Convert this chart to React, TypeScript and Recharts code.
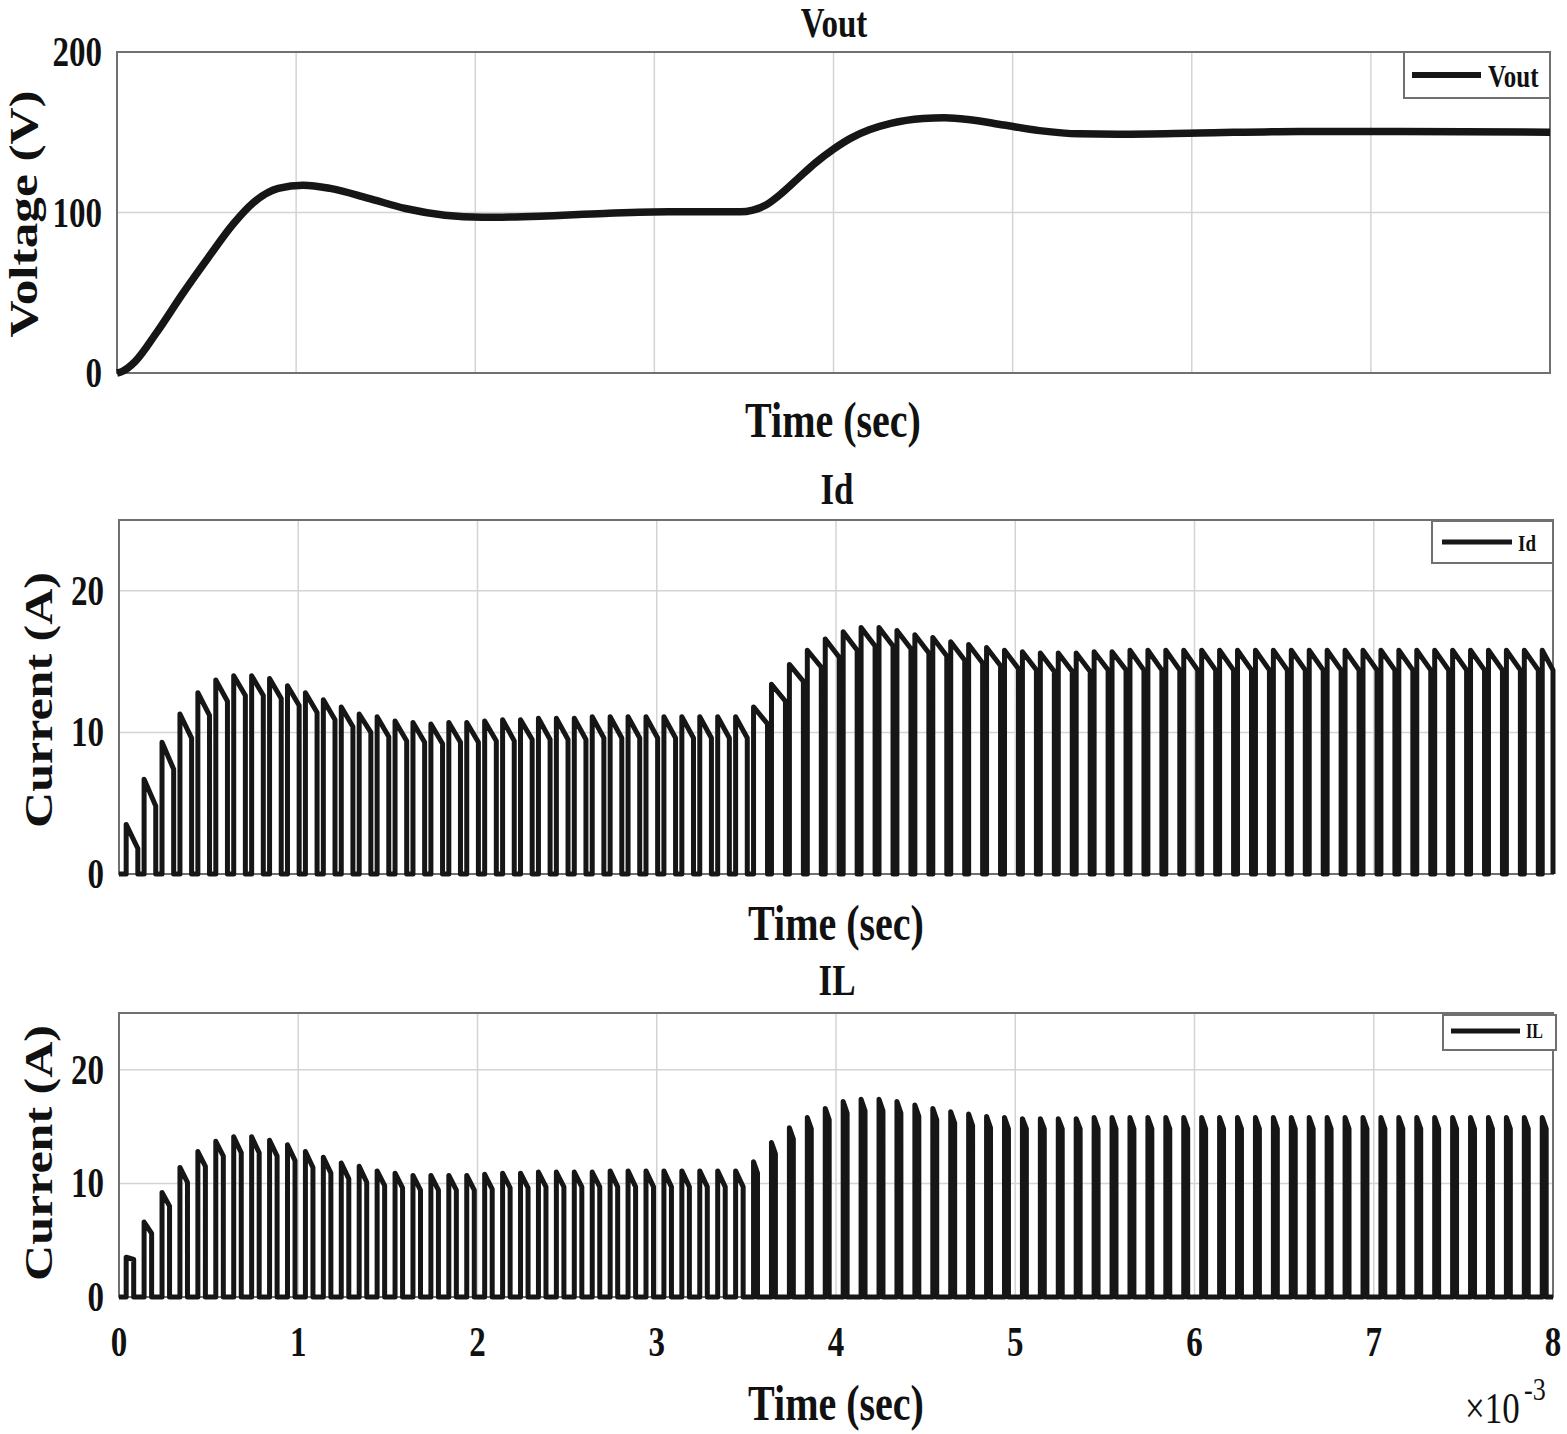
import React from "react";
import {
  CartesianGrid,
  Line,
  LineChart,
  ReferenceArea,
  XAxis,
  YAxis,
} from "recharts";

// Vout (time in ms, volts)
const voutTime = [
  0, 0.03, 0.1, 0.22, 0.37, 0.51, 0.65, 0.76, 0.9, 1.04, 1.19, 1.4, 1.61, 1.83,
  2.04, 2.36, 2.72, 3.08, 3.48, 3.55, 3.62, 3.7, 3.8, 3.9, 4.0, 4.1, 4.2, 4.32,
  4.5, 4.62, 4.75, 4.95, 5.15, 5.37, 5.6, 6.04, 6.6, 7.16, 8,
];
const voutVolts = [
  0, 1, 7, 25, 50, 72, 93, 106, 115, 117, 115, 109, 102.5, 98.3, 97, 97.7, 99.4,
  100.4, 100.4, 101.5, 104.5, 111, 121, 131, 139.5, 146.5, 151.5, 155.5, 158.5,
  159, 158, 154.5, 151, 149, 148.8, 149.5, 150.5, 150.5, 150,
];

// one entry per switching pulse (80 pulses of 0.1 ms)
const idPeaks = [
  3.5, 6.7, 9.3, 11.3, 12.8, 13.7, 14.0, 14.0, 13.8, 13.3, 12.8, 12.3, 11.8,
  11.3, 11.1, 10.8, 10.7, 10.6, 10.7, 10.7, 10.8, 10.9, 10.9, 11.0, 11.0, 11.0,
  11.1, 11.1, 11.1, 11.1, 11.1, 11.1, 11.1, 11.1, 11.1, 11.8, 13.4, 14.8, 15.8,
  16.6, 17.1, 17.4, 17.4, 17.2, 16.9, 16.7, 16.4, 16.2, 16.0, 15.8, 15.7, 15.6,
  15.6, 15.6, 15.7, 15.7, 15.8, 15.8, 15.8, 15.8, 15.8, 15.8, 15.8, 15.8, 15.8,
  15.8, 15.8, 15.8, 15.8, 15.8, 15.8, 15.8, 15.8, 15.8, 15.8, 15.8, 15.8, 15.8,
  15.8, 15.8,
];
const idLows = [
  1.8, 4.8, 7.4, 9.6, 11.2, 12.2, 12.6, 12.6, 12.4, 11.9, 11.4, 10.9, 10.4,
  10.0, 9.7, 9.4, 9.3, 9.2, 9.3, 9.3, 9.4, 9.4, 9.5, 9.5, 9.5, 9.5, 9.6, 9.6,
  9.6, 9.6, 9.6, 9.6, 9.6, 9.6, 9.6, 10.6, 12.2, 13.6, 14.6, 15.3, 15.8, 16.1,
  16.1, 15.9, 15.6, 15.4, 15.1, 14.9, 14.7, 14.5, 14.4, 14.3, 14.3, 14.3, 14.4,
  14.4, 14.4, 14.4, 14.4, 14.4, 14.4, 14.4, 14.4, 14.4, 14.4, 14.4, 14.4, 14.4,
  14.4, 14.4, 14.4, 14.4, 14.4, 14.4, 14.4, 14.4, 14.4, 14.4, 14.4, 14.4,
];
const ilPeaks = [
  3.5, 6.6, 9.2, 11.4, 12.8, 13.7, 14.1, 14.1, 13.8, 13.4, 12.8, 12.3, 11.8,
  11.5, 11.1, 10.9, 10.7, 10.7, 10.7, 10.7, 10.8, 10.9, 10.9, 11.0, 11.0, 11.0,
  11.0, 11.1, 11.1, 11.1, 11.1, 11.1, 11.1, 11.1, 11.1, 11.9, 13.6, 14.9, 15.8,
  16.6, 17.2, 17.4, 17.4, 17.2, 16.9, 16.6, 16.3, 16.1, 15.9, 15.8, 15.7, 15.7,
  15.7, 15.7, 15.8, 15.8, 15.8, 15.8, 15.8, 15.8, 15.8, 15.8, 15.8, 15.8, 15.8,
  15.8, 15.8, 15.8, 15.8, 15.8, 15.8, 15.8, 15.8, 15.8, 15.8, 15.8, 15.8, 15.8,
  15.8, 15.8,
];
const ilLows = [
  3.3, 5.6, 8.0, 10.1, 11.5, 12.4, 12.7, 12.7, 12.4, 12.0, 11.4, 10.9, 10.4,
  10.1, 9.8, 9.6, 9.4, 9.4, 9.4, 9.4, 9.5, 9.6, 9.6, 9.7, 9.7, 9.7, 9.7, 9.7,
  9.7, 9.7, 9.7, 9.7, 9.7, 9.7, 9.7, 10.9, 12.6, 13.9, 14.8, 15.6, 16.2, 16.4,
  16.4, 16.2, 15.9, 15.6, 15.3, 15.1, 14.9, 14.8, 14.8, 14.8, 14.8, 14.8, 14.8,
  14.8, 14.8, 14.8, 14.8, 14.8, 14.8, 14.8, 14.8, 14.8, 14.8, 14.8, 14.8, 14.8,
  14.8, 14.8, 14.8, 14.8, 14.8, 14.8, 14.8, 14.8, 14.8, 14.8, 14.8, 14.8,
];

// conduction time of each pulse (ms), before / after the reference step
const idOnTime = [0.065, 0.078];
const ilOnTime = [0.042, 0.022];
const STEP_PULSE = 35;
const PERIOD = 0.1;
const FIRST_RISE = 0.04;

const xTicks = [0, 1, 2, 3, 4, 5, 6, 7, 8];
const voutTicks = [0, 100, 200];
const currentTicks = [0, 10, 20];

const voutData = voutTime.map((t, i) => ({ t, v: voutVolts[i] }));

function pulseTrain(peaks: number[], lows: number[], onTime: number[]) {
  const pts = [{ t: 0, v: 0 }];
  peaks.forEach((peak, k) => {
    const start = FIRST_RISE + PERIOD * k;
    const end = Math.min(start + onTime[k < STEP_PULSE ? 0 : 1], 8);
    pts.push({ t: start, v: 0 });
    pts.push({ t: start, v: peak });
    pts.push({ t: end, v: lows[k] });
    pts.push({ t: end, v: 0 });
  });
  pts.push({ t: 8, v: 0 });
  return pts;
}

const idData = pulseTrain(idPeaks, idLows, idOnTime);
const ilData = pulseTrain(ilPeaks, ilLows, ilOnTime);

const FONT = "'Liberation Serif', 'Times New Roman', serif";
const PAGE_W = 1567;
const PAD_TOP = 40;

function YTick(props: any) {
  const { x, y, payload } = props;
  return (
    <g transform={`translate(${x},${y + 14}) scale(1,1.25)`}>
      <text textAnchor="end" fontFamily={FONT} fontSize={33} fontWeight="bold" fill="#111">
        {payload.value}
      </text>
    </g>
  );
}

function XTick(props: any) {
  const { x, y, payload } = props;
  return (
    <g transform={`translate(${x},${y + 51}) scale(1,1.25)`}>
      <text textAnchor="middle" fontFamily={FONT} fontSize={33} fontWeight="bold" fill="#111">
        {payload.value}
      </text>
    </g>
  );
}

const NoTick = () => <g />;

interface PanelProps {
  data: { t: number; v: number }[];
  top: number;
  left: number;
  right: number;
  plotH: number;
  yMax: number;
  yTicks: number[];
  lineWidth: number;
  smooth?: boolean;
  showXTicks?: boolean;
}

function Panel({ data, top, left, right, plotH, yMax, yTicks, lineWidth, smooth, showXTicks }: PanelProps) {
  const xAxisH = showXTicks ? 70 : 30;
  return (
    <div style={{ position: "absolute", top: top - PAD_TOP, left: 0 }}>
      <LineChart
        width={PAGE_W}
        height={PAD_TOP + plotH + xAxisH}
        data={data}
        margin={{ top: PAD_TOP, right: PAGE_W - right, bottom: 0, left: 0 }}
      >
        <CartesianGrid stroke="#d4d4d4" strokeWidth={1.5} />
        <XAxis
          type="number"
          dataKey="t"
          domain={[0, 8]}
          ticks={xTicks}
          interval={0}
          height={xAxisH}
          axisLine={false}
          tickLine={false}
          tick={showXTicks ? (p: any) => <XTick {...p} /> : NoTick}
        />
        <YAxis
          type="number"
          domain={[0, yMax]}
          ticks={yTicks}
          interval={0}
          width={left}
          axisLine={false}
          tickLine={false}
          tickMargin={9}
          tick={(p: any) => <YTick {...p} />}
        />
        <ReferenceArea
          x1={0}
          x2={8}
          y1={0}
          y2={yMax}
          fill="none"
          stroke="#707070"
          strokeWidth={2}
        />
        <Line
          type={smooth ? "monotone" : "linear"}
          dataKey="v"
          stroke="#161616"
          strokeWidth={lineWidth}
          strokeLinejoin="round"
          dot={false}
          activeDot={false}
          isAnimationActive={false}
        />
      </LineChart>
    </div>
  );
}

function Txt({ x, y, size, children, weight = "bold", anchor = "middle", vertical = false }: any) {
  const tr = vertical
    ? `translate(${x},${y}) rotate(-90) scale(1.25,1)`
    : `translate(${x},${y}) scale(1,1.25)`;
  return (
    <text transform={tr} textAnchor={anchor} fontFamily={FONT} fontSize={size} fontWeight={weight} fill="#111">
      {children}
    </text>
  );
}

function LegendBox({ x, y, w, h, lineFrom, lineTo, lineY, lineW, label, size, textX, textY }: any) {
  return (
    <g>
      <rect x={x} y={y} width={w} height={h} fill="#fff" stroke="#707070" strokeWidth={2} />
      <line x1={lineFrom} x2={lineTo} y1={lineY} y2={lineY} stroke="#161616" strokeWidth={lineW} />
      <Txt x={textX} y={textY} size={size} anchor="start">{label}</Txt>
    </g>
  );
}

export default function App() {
  return (
    <div style={{ position: "relative", width: PAGE_W, height: 1434, background: "#fff" }}>
      <style>{"body{margin:0}"}</style>
      <Panel data={voutData} top={52} left={117} right={1550} plotH={321} yMax={200} yTicks={voutTicks} lineWidth={7.5} smooth />
      <Panel data={idData} top={520} left={119} right={1553} plotH={354} yMax={25} yTicks={currentTicks} lineWidth={5} />
      <Panel data={ilData} top={1013} left={119} right={1553} plotH={284} yMax={25} yTicks={currentTicks} lineWidth={5} showXTicks />
      <svg
        width={PAGE_W}
        height={1434}
        style={{ position: "absolute", top: 0, left: 0, pointerEvents: "none" }}
      >
        <Txt x={834} y={37} size={33}>Vout</Txt>
        <Txt x={837} y={504} size={35}>Id</Txt>
        <Txt x={837} y={995} size={35}>IL</Txt>
        <Txt x={833} y={437} size={40}>Time (sec)</Txt>
        <Txt x={836} y={940} size={40}>Time (sec)</Txt>
        <Txt x={836} y={1420} size={40}>Time (sec)</Txt>
        <Txt x={37} y={214} size={41} vertical>Voltage (V)</Txt>
        <Txt x={52} y={700} size={40} vertical>Current (A)</Txt>
        <Txt x={52} y={1153} size={40} vertical>Current (A)</Txt>
        <Txt x={1465} y={1423} size={35} weight="normal" anchor="start">×10</Txt>
        <Txt x={1524} y={1400} size={26} weight="normal" anchor="start">-3</Txt>
        <LegendBox x={1404} y={52} w={146} h={46} lineFrom={1412} lineTo={1481} lineY={75} lineW={6}
          label="Vout" size={25} textX={1488} textY={87} />
        <LegendBox x={1432} y={521} w={121} h={42} lineFrom={1442} lineTo={1512} lineY={542} lineW={5}
          label="Id" size={19} textX={1518} textY={551} />
        <LegendBox x={1443} y={1015} w={113} h={35} lineFrom={1451} lineTo={1520} lineY={1031} lineW={5}
          label="IL" size={16} textX={1526} textY={1038} />
      </svg>
    </div>
  );
}
